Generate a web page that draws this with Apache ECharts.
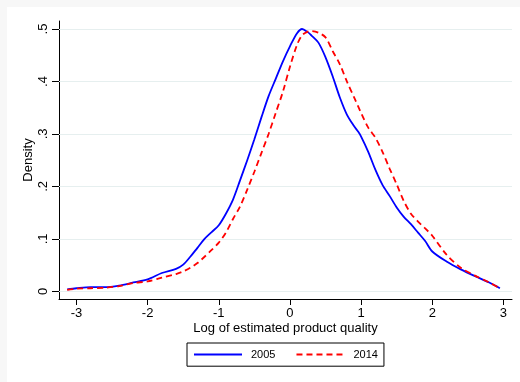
<!DOCTYPE html>
<html>
<head>
<meta charset="utf-8">
<script src="https://cdn.jsdelivr.net/npm/echarts@6/dist/echarts.min.js"></script>
<style>
html,body{margin:0;padding:0;background:#f7f7f7;}
#chart{width:520px;height:382px;}
</style>
</head>
<body>
<div id="chart"></div>
<script>
var quality = [-3.13, -3.0, -2.8, -2.6, -2.4, -2.2, -2.0, -1.8, -1.6, -1.5, -1.4, -1.3, -1.2, -1.1, -1.0, -0.9, -0.8, -0.7, -0.6, -0.5, -0.4, -0.3, -0.2, -0.1, 0.0, 0.1, 0.17, 0.25, 0.3, 0.4, 0.5, 0.6, 0.7, 0.8, 0.9, 0.96, 1.0, 1.1, 1.2, 1.3, 1.4, 1.5, 1.6, 1.7, 1.8, 1.9, 2.0, 2.2, 2.4, 2.6, 2.8, 2.95];
var density2005 = [0.004, 0.006, 0.008, 0.008, 0.011, 0.017, 0.023, 0.035, 0.043, 0.051, 0.066, 0.083, 0.100, 0.113, 0.126, 0.148, 0.175, 0.212, 0.250, 0.290, 0.332, 0.372, 0.405, 0.438, 0.467, 0.492, 0.500, 0.494, 0.488, 0.474, 0.446, 0.410, 0.370, 0.337, 0.315, 0.304, 0.295, 0.266, 0.232, 0.203, 0.182, 0.160, 0.142, 0.128, 0.112, 0.096, 0.076, 0.057, 0.042, 0.029, 0.017, 0.006];
var density2014 = [0.003, 0.005, 0.006, 0.007, 0.010, 0.016, 0.019, 0.026, 0.033, 0.038, 0.045, 0.054, 0.066, 0.079, 0.093, 0.112, 0.138, 0.162, 0.194, 0.228, 0.264, 0.300, 0.340, 0.380, 0.428, 0.470, 0.488, 0.495, 0.496, 0.493, 0.484, 0.458, 0.433, 0.400, 0.370, 0.352, 0.340, 0.312, 0.293, 0.266, 0.234, 0.204, 0.172, 0.148, 0.133, 0.120, 0.106, 0.070, 0.045, 0.030, 0.017, 0.006];
var xTicks = [-3, -2, -1, 0, 1, 2, 3];
var yTicks = [0, 0.1, 0.2, 0.3, 0.4, 0.5];
var yTickLabels = ['0', '.1', '.2', '.3', '.4', '.5'];
var seriesNames = ['2005', '2014'];

function pairs(xs, ys) { return xs.map(function (x, i) { return [x, ys[i]]; }); }

var chart = echarts.init(document.getElementById('chart'), null, {renderer: 'canvas'});
var font = 'Liberation Sans, Arial, Helvetica, sans-serif';
chart.setOption({
  backgroundColor: '#f7f7f7',
  animation: false,
  graphic: [{type: 'rect', z: -10, shape: {x: 7, y: 7, width: 513, height: 375}, style: {fill: '#ffffff'}}],
  grid: {left: 59, right: 8, top: 21, bottom: 83, containLabel: false},
  xAxis: {
    type: 'value', min: -3.245, max: 3.12,
    name: 'Log of estimated product quality', nameLocation: 'middle', nameGap: 23, nameMoveOverlap: false,
    nameTextStyle: {fontFamily: font, fontSize: 13, color: '#000'},
    axisLine: {show: true, onZero: false, lineStyle: {color: '#000', width: 1}},
    axisTick: {show: true, length: 6, customValues: xTicks, lineStyle: {color: '#000'}},
    axisLabel: {customValues: xTicks, margin: 8, fontFamily: font, fontSize: 13, color: '#000'},
    splitLine: {show: false}
  },
  yAxis: {
    type: 'value', min: -0.0145, max: 0.5152,
    name: 'Density', nameLocation: 'middle', nameGap: 24, nameRotate: 90, nameMoveOverlap: false,
    nameTextStyle: {fontFamily: font, fontSize: 13, color: '#000'},
    axisLine: {show: true, onZero: false, lineStyle: {color: '#000', width: 1}},
    axisTick: {show: true, length: 7, customValues: yTicks, lineStyle: {color: '#000'}},
    axisLabel: {customValues: yTicks, rotate: 90, margin: 9, fontFamily: font, fontSize: 13, color: '#000',
      formatter: function (v) { var i = yTicks.findIndex(function (t) { return Math.abs(t - v) < 1e-9; }); return i >= 0 ? yTickLabels[i] : ''; }},
    splitLine: {show: false}
  },
  legend: {
    left: 187, top: 343, orient: 'horizontal',
    data: seriesNames,
    itemWidth: 48, itemHeight: 14, itemGap: 20,
    padding: [6, 6, 6, 6],
    borderColor: '#000', borderWidth: 1, borderRadius: 0,
    itemStyle: {color: 'transparent', borderColor: 'transparent', borderWidth: 0},
    textStyle: {fontFamily: font, fontSize: 11, color: '#000', padding: [0, 0, 0, 4]}
  },
  series: [
    {
      name: seriesNames[0], type: 'line', data: pairs(quality, density2005),
      smooth: 0.3, symbol: 'none', showSymbol: false,
      lineStyle: {color: '#0000ff', width: 1.8}, itemStyle: {color: '#0000ff'},
      z: 3,
      markLine: {
        silent: true, symbol: 'none', label: {show: false},
        lineStyle: {color: '#e6efef', width: 1, type: 'solid'},
        data: yTicks.map(function (t) { return {yAxis: t}; }),
        z: 1
      }
    },
    {
      name: seriesNames[1], type: 'line', data: pairs(quality, density2014),
      smooth: 0.3, symbol: 'none', showSymbol: false,
      lineStyle: {color: '#ff0000', width: 1.8, type: [6, 4]}, itemStyle: {color: '#ff0000'},
      z: 4
    }
  ]
});
</script>
</body>
</html>
